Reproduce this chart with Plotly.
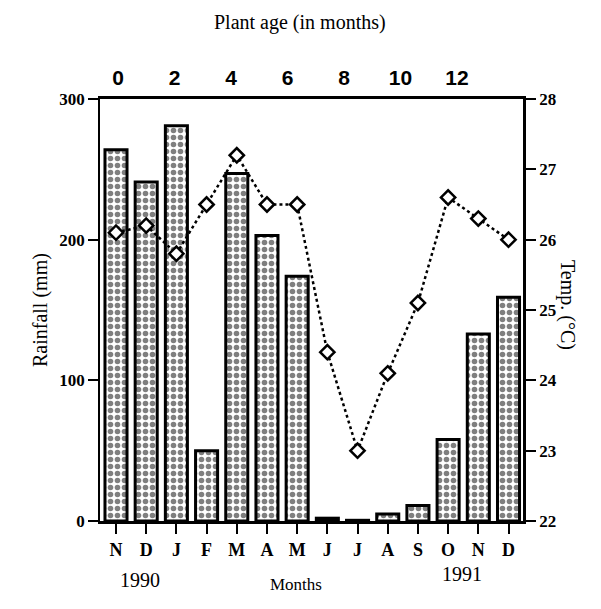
import plotly.graph_objs as go

months = ['N', 'D', 'J', 'F', 'M', 'A', 'M', 'J', 'J', 'A', 'S', 'O', 'N', 'D']
rainfall = [264, 241, 281, 50, 247, 203, 174, 2, 0.5, 5, 11, 58, 133, 159]
temp = [26.1, 26.2, 25.8, 26.5, 27.2, 26.5, 26.5, 24.4, 23.0, 24.1, 25.1, 26.6, 26.3, 26.0]
plant_age = [0, 2, 4, 6, 8, 10, 12]

pos = list(range(len(months)))
serif = 'Liberation Serif'
W, H = 601, 609
OFF = 8  # page body margin in the browser
ML, MR, MT, MB = 100 - OFF, 78 + OFF, 99 - OFF, 88 + OFF

bars = go.Bar(x=pos, y=rainfall, width=0.73, xaxis='x', yaxis='y',
              marker=dict(color='white', line=dict(color='black', width=3),
                          pattern=dict(shape='.', size=7, solidity=0.5,
                                       fgcolor='black', bgcolor='white')),
              showlegend=False)

line = go.Scatter(x=pos, y=temp, xaxis='x', yaxis='y2', mode='lines+markers',
                  line=dict(color='black', width=2.5, dash='dot'),
                  marker=dict(symbol='diamond', size=11, color='white',
                              line=dict(color='black', width=2.5)),
                  showlegend=False)

# dummy trace so the top plant-age axis is drawn
age_axis = go.Scatter(x=plant_age, y=[None] * len(plant_age), xaxis='x2', yaxis='y',
                      mode='markers', showlegend=False, hoverinfo='skip')

tick_font = dict(family=serif, size=17, color='black', weight='bold')

# (text, x px, y px on screen, angle, size)
labels = [
    ('Plant age (in months)', 300, 22, 0, 20),
    ('Rainfall (mm)', 40, 310, -90, 20),
    ('Temp. (°C)', 568, 305, 90, 20),
    ('1990', 140, 580, 0, 20),
    ('Months', 296, 584, 0, 17),
    ('1991', 462, 574, 0, 20),
]
pw, ph = W - ML - MR, H - MT - MB
anns = [dict(text=t, xref='paper', yref='paper',
             x=(px - OFF - ML) / pw, y=(H - MB - (py - OFF)) / ph,
             xanchor='center', yanchor='middle',
             showarrow=False, textangle=ang, font=dict(family=serif, size=sz, color='black'))
        for t, px, py, ang, sz in labels]

layout = go.Layout(
    width=W, height=H, autosize=False,
    margin=dict(l=ML, r=MR, t=MT, b=MB),
    plot_bgcolor='white', paper_bgcolor='white',
    xaxis=dict(range=[-0.53, 13.48], tickvals=pos, ticktext=months, automargin=False,
               ticks='outside', ticklen=10, tickwidth=2, tickcolor='black',
               showline=True, linewidth=3, linecolor='black', showgrid=False,
               zeroline=False, tickfont=dict(family=serif, size=18, color='black', weight='bold')),
    xaxis2=dict(range=[-0.64, 14.34], overlaying='x', side='top', tickvals=plant_age,
                ticks='', showline=True, linewidth=3, linecolor='black', showgrid=False,
                zeroline=False, automargin=False, ticklabelstandoff=3,
                tickfont=dict(family='Liberation Sans', size=21, color='black', weight='bold')),
    yaxis=dict(range=[0, 300], tickvals=[0, 100, 200, 300], ticks='outside', ticklen=10,
               tickwidth=2, tickcolor='black', showline=True, linewidth=1.5, automargin=False,
               linecolor='black', showgrid=False, zeroline=False, tickfont=tick_font),
    yaxis2=dict(range=[22, 28], dtick=1, overlaying='y', side='right', ticks='outside',
                ticklen=10, tickwidth=2, tickcolor='black', showline=True, linewidth=2.5,
                automargin=False,
                linecolor='black', showgrid=False, zeroline=False, tickfont=tick_font),
    annotations=anns,
)

fig = go.Figure(data=[bars, line, age_axis], layout=layout)
fig.write_html("out.html")
